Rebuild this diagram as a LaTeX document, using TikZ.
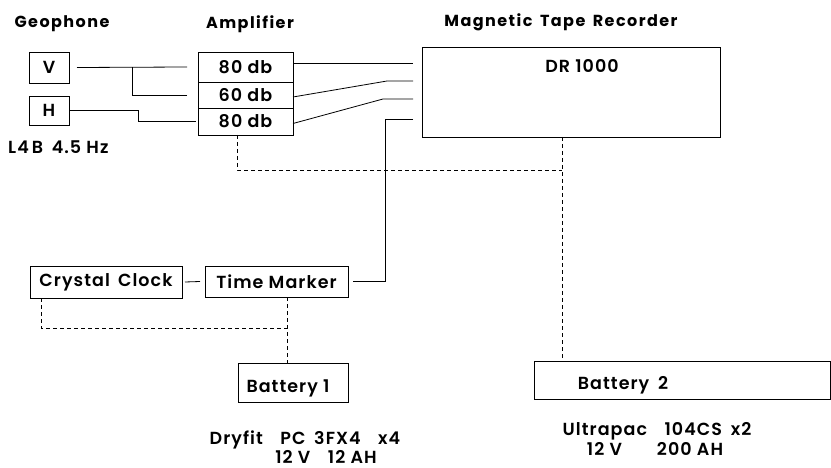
\documentclass[tikz,border=0pt]{standalone}
\usepackage{fontspec}
\setmainfont{Poppins}
\newfontfamily\semib{Poppins SemiBold}[LetterSpace=6]
\newfontfamily\heavy{Poppins}[LetterSpace=9]
\usetikzlibrary{calc}
\begin{document}
\begin{tikzpicture}[x=1pt,y=-1pt,
  bx/.style={draw,line width=0.9pt,inner sep=0pt,outer sep=0pt,anchor=north west},
  ln/.style={line width=0.8pt},
  dsh/.style={line width=0.8pt,dash pattern=on 4pt off 3pt},
  hd/.style={font=\heavy\fontsize{16}{19}\selectfont\bfseries,inner sep=0pt},
  tx/.style={font=\semib\fontsize{17.5}{20}\selectfont,inner sep=0pt}]
\useasboundingbox (0,0) rectangle (831,468);
% headings
\node[hd] (hgeo) at (62,24) {Geophone};
\node[hd] (hamp) at (250,24) {Amplifier};
\node[hd] (hmtr) at (561,22) {Magnetic\, Tape\, Recorder};
% geophone
\node[bx,tx,minimum width=40pt,minimum height=31pt] (V) at (29,52) {V};
\node[bx,tx,minimum width=40pt,minimum height=29pt] (H) at (29,96) {H};
\node[tx,anchor=west] (l4b) at (8,147) {L4\,B\enspace 4.5 Hz};
% amplifier
\node[bx,tx,minimum width=95pt,minimum height=30pt] (amp1) at (198,52) {80 db};
\node[bx,tx,minimum width=95pt,minimum height=26pt] (amp2) at (198,82) {60 db};
\node[bx,tx,minimum width=95pt,minimum height=27pt] (amp3) at (198,108) {80 db};
% recorder
\node[bx,minimum width=298pt,minimum height=90pt] (dr) at (422,47) {};
\node[tx] (drl) at (582,66) {DR 1000};
% clock / marker
\node[bx,tx,minimum width=152pt,minimum height=32pt] (cc) at (30,266) {Crystal\, Clock};
\node[bx,tx,minimum width=143pt,minimum height=31pt] (tm) at (205,266) {Time Marker};
% batteries
\node[bx,minimum width=110pt,minimum height=39pt] (b1) at (238,363) {};
\node[tx] (b1l) at (288,388) {Battery 1};
\node[bx,minimum width=296pt,minimum height=38pt] (b2) at (534,361) {};
\node[tx] (b2l) at (623,385) {Battery\enspace 2};
\node[tx] (b1a) at (305,440) {Dryfit\quad PC\enspace 3FX4\quad x4};
\node[tx] (b1b) at (326,457) {12 V\quad 12 AH};
\node[tx] (b2a) at (657,431) {Ultrapac\quad 104CS\enspace x2};
\node[tx] (b2b) at (655,449) {12 V\qquad 200 AH};
% recorder inputs
\coordinate (in1) at ([shift={(-9,16)}]dr.north west);
\coordinate (in2) at ([shift={(-9,34)}]dr.north west);
\coordinate (in3) at ([shift={(-9,52)}]dr.north west);
\coordinate (in4) at ([shift={(-9,72)}]dr.north west);
% geophone to amplifier
\draw[ln] ([xshift=8pt]V.east) -- ([xshift=-11pt]amp1.west);
\draw[ln] ([xshift=-11pt]amp2.west) -| ($([xshift=8pt]V.east)!0.5!([xshift=-11pt]amp1.west)$);
\draw[ln] (H.east) -- ++(69,0) |- ([xshift=-2pt]amp3.west);
% amplifier to recorder
\draw[ln] (amp1.east |- in1) -- (in1);
\draw[ln] ([yshift=-2pt]amp2.east) -- ([xshift=-26pt]in2) -- (in2);
\draw[ln] ([yshift=-2pt]amp3.east) -- ([xshift=-30pt]in3) -- (in3);
% time marker to recorder
\draw[ln] (in4) -- ++(-28,0) |- ([xshift=5pt]tm.east);
\draw[ln] ([xshift=3pt]cc.east) -- ([xshift=-5pt]tm.west);
% power (dashed)
\coordinate (pj) at ([xshift=-9pt]dr.south |- 0,170);
\draw[dsh] ([xshift=-9pt]dr.south) -- ([xshift=-9pt]dr.south |- b2.north);
\draw[dsh] ([xshift=-8.5pt]amp3.south) |- (pj);
\coordinate (qj) at ([xshift=-6pt]b1.north |- 0,328);
\draw[dsh] ([xshift=-6pt]b1.north |- tm.south) -- ([xshift=-6pt]b1.north);
\draw[dsh] ([xshift=-65pt]cc.south) |- (qj);
\end{tikzpicture}
\end{document}
